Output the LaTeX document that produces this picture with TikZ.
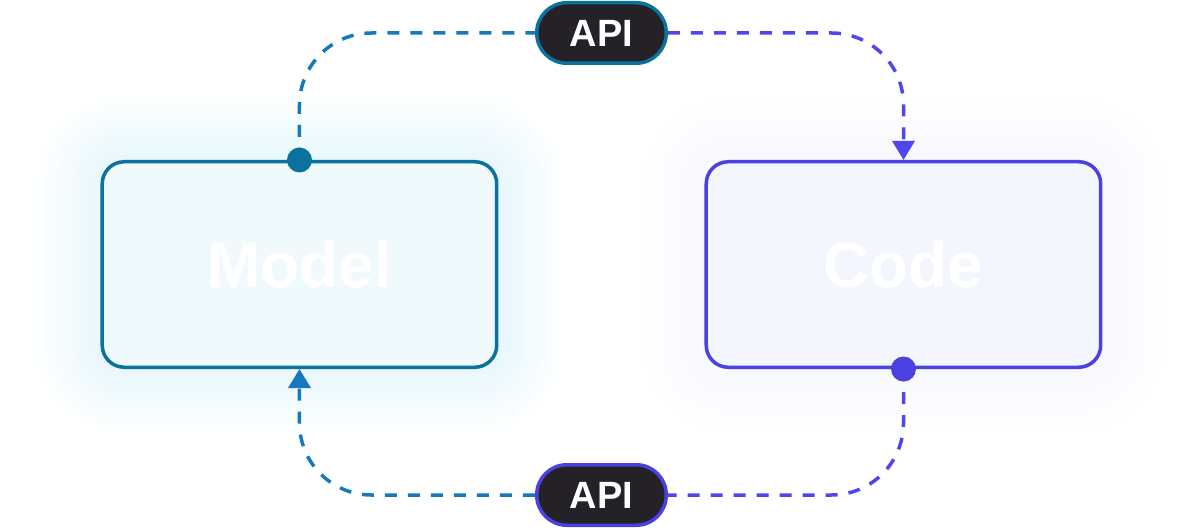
\documentclass[tikz,border=0pt]{standalone}
\usepackage{fontspec}
\setmainfont{Liberation Sans}
\usetikzlibrary{matrix,positioning,arrows.meta,backgrounds}

\definecolor{modelline}{HTML}{0A729C}
\definecolor{modelfill}{HTML}{F0FAFD}
\definecolor{modelglow}{HTML}{7FD3EE}
\definecolor{modellink}{HTML}{1679BC}
\definecolor{codeline}{HTML}{4B40E2}
\definecolor{codefill}{HTML}{F4F6FE}
\definecolor{codeglow}{HTML}{A9B3F5}
\definecolor{codelink}{HTML}{5046EE}
\definecolor{pillfill}{HTML}{242127}

\begin{document}
\begin{tikzpicture}[x=1pt, y=1pt,
    box/.style={draw, line width=3.5pt, rounded corners=22pt,
      minimum width=394.5pt, minimum height=205.5pt, text=white,
      font=\fontsize{64}{70}\selectfont\bfseries},
    pill/.style={draw, line width=3.5pt, fill=pillfill, rounded corners=30pt,
      minimum width=129.5pt, minimum height=60.5pt, text=white,
      font=\fontsize{38}{42}\selectfont\bfseries},
    link/.style={line width=3.5pt, dash pattern=on 12pt off 11pt, rounded corners=72pt},
    tip/.style={-{Triangle[width=22pt,length=19pt]}},
    dot/.style={circle, inner sep=0pt, minimum size=25pt}]
      \useasboundingbox (-601.5,-265.5) rectangle (601.5,264.5);
      \matrix (mat) [column sep=206pt] {
        \node[box, draw=modelline, fill=modelfill] (model) {Model}; &
        \node[box, draw=codeline, fill=codefill] (code) {Code}; \\
      };
      % soft glow behind the boxes
      \begin{scope}[on background layer]
        \foreach \r in {3,6,...,66} {
          \fill[modelglow, fill opacity=0.008, rounded corners=22pt+\r]
            ([shift={(-\r,-\r)}]model.south west) rectangle ([shift={(\r,\r)}]model.north east);
          \fill[codeglow, fill opacity=0.005, rounded corners=22pt+\r]
            ([shift={(-\r,-\r)}]code.south west) rectangle ([shift={(\r,\r)}]code.north east);
        }
      \end{scope}
      \node[pill, draw=modelline] (apitop) at (0,231.5) {API};
      \node[pill, draw=codeline] (apibot) at (0,-230.5) {API};
      \draw[link, draw=modellink] (model.north) |- (apitop.west);
      \draw[link, tip, draw=codelink] (apitop.east) -| (code.north);
      \draw[link, draw=codelink] (code.south) |- (apibot.east);
      \draw[link, tip, draw=modellink] (apibot.west) -| (model.south);
      \node[dot, fill=modelline] (modeldot) at (model.north) {};
      \node[dot, fill=codeline] (codedot) at (code.south) {};
    \end{tikzpicture}
\end{document}
